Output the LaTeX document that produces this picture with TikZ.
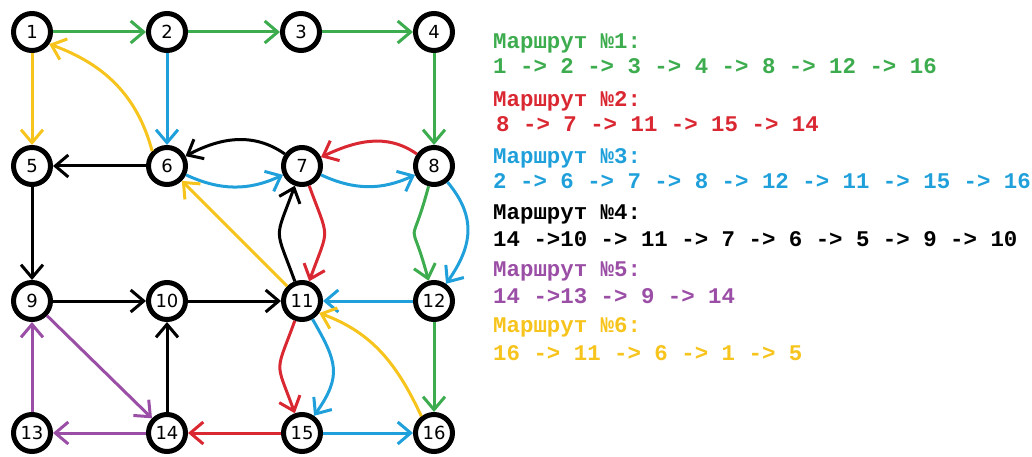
\documentclass[tikz,border=0pt]{standalone}
\usepackage{fontspec}
\setmainfont{DejaVu Sans}
\newfontfamily\monob{Liberation Mono}
\usetikzlibrary{arrows.meta}
\definecolor{cg}{RGB}{61,172,78}
\definecolor{cr}{RGB}{218,40,50}
\definecolor{cb}{RGB}{32,160,218}
\definecolor{cp}{RGB}{155,78,165}
\definecolor{cy}{RGB}{246,196,28}
\begin{document}
\begin{tikzpicture}[x=1pt,y=1pt,
  v/.style={circle,draw,line width=5pt,minimum size=37pt,inner sep=0pt,font=\fontsize{18}{18}\selectfont},
  e/.style={line width=3pt,-{Straight Barb[length=13pt,width=22pt]}},
  lbl/.style={anchor=base west,inner sep=0pt,font=\monob\bfseries\fontsize{22.4}{22.4}\selectfont}]
\useasboundingbox (0,-457) rectangle (1032,0);
\node[v] (1) at (32,-32) {1};
\node[v] (2) at (167,-32) {2};
\node[v] (3) at (301,-32) {3};
\node[v] (4) at (434,-32) {4};
\node[v] (5) at (32,-166) {5};
\node[v] (6) at (167,-166) {6};
\node[v] (7) at (302,-166) {7};
\node[v] (8) at (434,-166) {8};
\node[v] (9) at (32,-301) {9};
\node[v] (10) at (167,-301) {10};
\node[v] (11) at (302,-301) {11};
\node[v] (12) at (434,-301) {12};
\node[v] (13) at (32,-433) {13};
\node[v] (14) at (167,-433) {14};
\node[v] (15) at (302,-433) {15};
\node[v] (16) at (434,-433) {16};
% green
\draw[e,cg] (1) -- (2);
\draw[e,cg] (2) -- (3);
\draw[e,cg] (3) -- (4);
\draw[e,cg] (4) -- (8);
\draw[e,cg] (8) to[out=-105,in=105,looseness=2] (12);
\draw[e,cg] (12) -- (16);
% red
\draw[e,cr] (8) to[out=145,in=25] (7);
\draw[e,cr] (7) to[out=-70,in=70,looseness=1.6] (11);
\draw[e,cr] (11) to[out=-110,in=110,looseness=1.6] (15);
\draw[e,cr] (15) -- (14);
% blue
\draw[e,cb] (2) -- (6);
\draw[e,cb] (6) to[bend right=25] (7);
\draw[e,cb] (7) to[bend right=25] (8);
\draw[e,cb] (8) to[out=-50,in=55,looseness=1.15] (12);
\draw[e,cb] (12) -- (11);
\draw[e,cb] (11) to[out=-60,in=55,looseness=1.3] (15);
\draw[e,cb] (15) -- (16);
% black
\draw[e] (14) -- (10);
\draw[e] (10) -- (11);
\draw[e] (11) to[out=110,in=-110,looseness=1.6] (7);
\draw[e] (7) to[out=145,in=28] (6);
\draw[e] (6) -- (5);
\draw[e] (5) -- (9);
\draw[e] (9) -- (10);
% purple
\draw[e,cp] (14) -- (13);
\draw[e,cp] (13) -- (9);
\draw[e,cp] (9) -- (14);
% yellow
\draw[e,cy] (16.127) to[out=115,in=-20] (11.-35);
\draw[e,cy] (11) -- (6);
\draw[e,cy] (6.135) to[out=105,in=-20] (1.-35);
\draw[e,cy] (1) -- (5);
% texts
\node[lbl,text=cg] (t1) at (493,-48.5) {Маршрут №1:};
\node[lbl,text=cg] (r1) at (493,-73.5) {1 -> 2 -> 3 -> 4 -> 8 -> 12 -> 16};
\node[lbl,text=cr] (t2) at (493,-106.5) {Маршрут №2:};
\node[lbl,text=cr] (r2) at (496,-131.5) {8 -> 7 -> 11 -> 15 -> 14};
\node[lbl,text=cb] (t3) at (493,-163.5) {Маршрут №3:};
\node[lbl,text=cb] (r3) at (493,-188.5) {2 -> 6 -> 7 -> 8 -> 12 -> 11 -> 15 -> 16};
\node[lbl,text=black] (t4) at (493,-219.5) {Маршрут №4:};
\node[lbl,text=black] (r4) at (493,-246.5) {14 ->10 -> 11 -> 7 -> 6 -> 5 -> 9 -> 10};
\node[lbl,text=cp] (t5) at (493,-276.5) {Маршрут №5:};
\node[lbl,text=cp] (r5) at (493,-303.5) {14 ->13 -> 9 -> 14};
\node[lbl,text=cy] (t6) at (493,-332.5) {Маршрут №6:};
\node[lbl,text=cy] (r6) at (493,-360.5) {16 -> 11 -> 6 -> 1 -> 5};
\end{tikzpicture}
\end{document}
